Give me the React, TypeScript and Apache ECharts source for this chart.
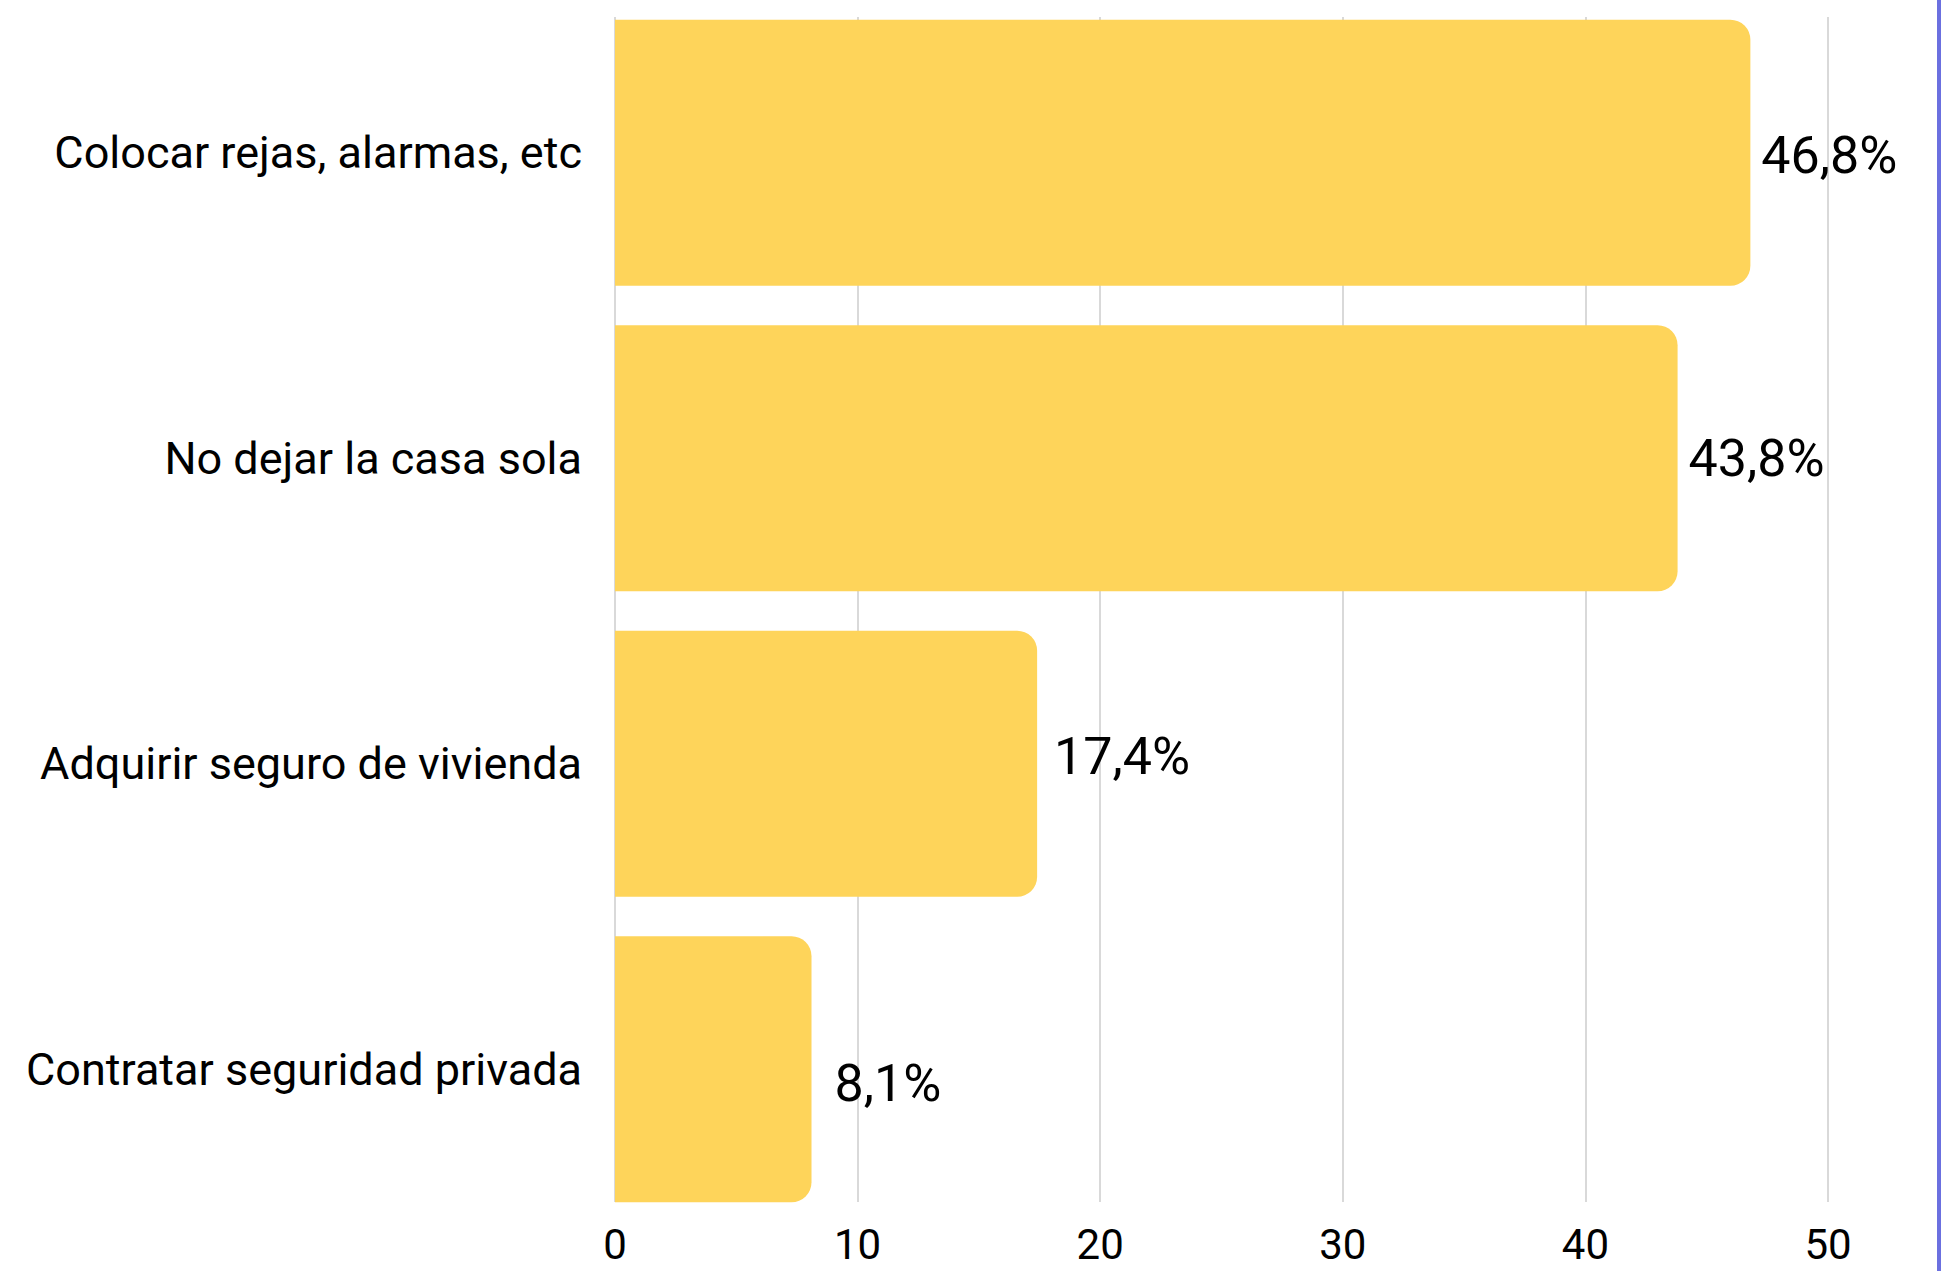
import React, { useEffect, useRef } from "react";
import * as echarts from "echarts";

const categories = [
  "Colocar rejas, alarmas, etc",
  "No dejar la casa sola",
  "Adquirir seguro de vivienda",
  "Contratar seguridad privada",
];
const values = [46.8, 43.8, 17.4, 8.1];
const labelOffsets = [
  [0, 3],
  [0, 0],
  [6, -7],
  [12, 14],
];
const axisMin = 0;
const axisMax = 50;
const axisInterval = 10;

const FONT = "Roboto, 'Noto Sans', sans-serif";

export default function App() {
  const ref = useRef<HTMLDivElement>(null);
  useEffect(() => {
    document.body.style.margin = "0";
    const chart = echarts.init(ref.current!, null, { renderer: "svg" });
    const left = 615;
    const right = 1941 - 1828;
    chart.setOption({
      animation: false,
      backgroundColor: "#ffffff",
      textStyle: { fontFamily: FONT },
      grid: [
        { left, right, top: -3, height: 1225, containLabel: false },
        { left, right, top: 17, height: 1185, containLabel: false },
      ],
      xAxis: [
        {
          type: "value",
          gridIndex: 0,
          min: axisMin,
          max: axisMax,
          interval: axisInterval,
          show: false,
          splitLine: { show: false },
        },
        {
          type: "value",
          gridIndex: 1,
          min: axisMin,
          max: axisMax,
          interval: axisInterval,
          axisLine: { show: false },
          axisTick: { show: false },
          splitLine: { show: true, lineStyle: { color: "#cccccc", width: 1.5 } },
          axisLabel: {
            fontSize: 42,
            lineHeight: 42,
            color: "#000000",
            margin: 21,
            fontFamily: FONT,
          },
        },
      ],
      yAxis: [
        {
          type: "category",
          gridIndex: 0,
          data: categories,
          inverse: true,
          axisLine: { show: false },
          axisTick: { show: false },
          splitLine: { show: false },
          axisLabel: {
            fontSize: 45,
            color: "#000000",
            margin: 33,
            fontFamily: FONT,
          },
        },
        {
          type: "category",
          gridIndex: 1,
          data: categories,
          show: false,
        },
      ],
      series: [
        {
          type: "bar",
          xAxisIndex: 0,
          yAxisIndex: 0,
          z: 3,
          barWidth: 266,
          data: values.map((v, i) => ({
            value: v,
            label: { offset: labelOffsets[i] },
          })),
          itemStyle: { color: "#FED45A", borderRadius: [0, 20, 20, 0] },
          label: {
            show: true,
            position: "right",
            distance: 11,
            fontSize: 52,
            color: "#000000",
            fontFamily: FONT,
            formatter: (p: any) => String(p.value).replace(".", ",") + "%",
          },
        },
      ],
      graphic: [
        {
          type: "rect",
          right: 0,
          top: 0,
          shape: { width: 4, height: 1271 },
          style: { fill: "#6B70E0" },
          z: 10,
        },
      ],
    });
    return () => chart.dispose();
  }, []);
  return <div ref={ref} style={{ width: 1941, height: 1271 }} />;
}
